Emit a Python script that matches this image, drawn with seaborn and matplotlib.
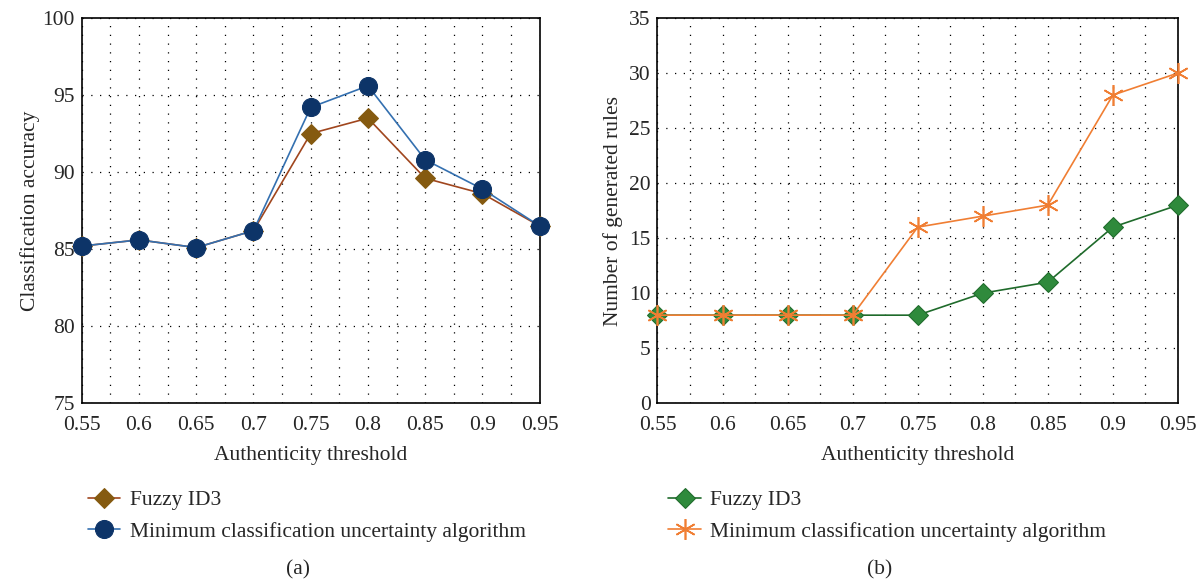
import numpy as np
import pandas as pd
import seaborn as sns
import matplotlib.pyplot as plt
from matplotlib.ticker import MultipleLocator

# Data
thresholds = [0.55, 0.6, 0.65, 0.7, 0.75, 0.8, 0.85, 0.9, 0.95]
acc_fuzzy = [85.2, 85.6, 85.1, 86.2, 92.5, 93.5, 89.6, 88.6, 86.5]
acc_mcu = [85.2, 85.6, 85.1, 86.2, 94.2, 95.6, 90.8, 88.9, 86.5]
rules_fuzzy = [8, 8, 8, 8, 8, 10, 11, 16, 18]
rules_mcu = [8, 8, 8, 8, 16, 17, 18, 28, 30]
names = ["Fuzzy ID3", "Minimum classification uncertainty algorithm"]

sns.set_style("ticks")
plt.rcParams['font.family'] = ['Liberation Serif', 'DejaVu Serif']
plt.rcParams['font.size'] = 15.5

fig = plt.figure(figsize=(12.02, 5.81), dpi=100)
ax1 = fig.add_axes([0.068, 0.306, 0.381, 0.663])
ax2 = fig.add_axes([0.547, 0.306, 0.433, 0.663])

# (a) classification accuracy
sns.lineplot(x=thresholds, y=acc_fuzzy, ax=ax1, color="#a0461e", lw=1.2,
             marker="D", markersize=10, markerfacecolor="#855a10",
             markeredgecolor="#855a10", label=names[0], clip_on=False, zorder=3)
sns.lineplot(x=thresholds, y=acc_mcu, ax=ax1, color="#3470b0", lw=1.2,
             marker="o", markersize=13, markerfacecolor="#0d3468",
             markeredgecolor="#0d3468", label=names[1], clip_on=False, zorder=4)
ax1.set_ylim(75, 100)
ax1.set_ylabel("Classification accuracy", labelpad=2)

# (b) number of rules
sns.lineplot(x=thresholds, y=rules_fuzzy, ax=ax2, color="#1f6b2b", lw=1.2,
             marker="D", markersize=10, markerfacecolor="#2f8a3c",
             markeredgecolor="#1f6b2b", label=names[0], clip_on=False, zorder=3)
sns.lineplot(x=thresholds, y=rules_mcu, ax=ax2, color="#f07e33", lw=1.2,
             marker=(6, 2, 0), markersize=15, markeredgewidth=1.2,
             markeredgecolor="#f07e33", label=names[1], clip_on=False, zorder=4)
ax2.set_ylim(0, 35)
ax2.set_ylabel("Number of generated rules", labelpad=4)

for ax in [ax1, ax2]:
    ax.set_xlim(0.55, 0.95)
    ax.set_xticks(thresholds)
    ax.set_xticklabels([f"{t:g}" for t in thresholds])
    ax.xaxis.set_minor_locator(MultipleLocator(0.025))
    ax.set_xlabel("Authenticity threshold", labelpad=8)
    ax.grid(True, which="major", axis="both", color="black", ls=(0, (1, 6)), lw=0.9)
    ax.grid(True, which="minor", axis="x", color="black", ls=(0, (1, 6)), lw=0.9)
    ax.tick_params(which="both", direction="in", length=0)
    ax.tick_params(axis="x", pad=9)
    ax.tick_params(axis="y", pad=5)
    for s in ax.spines.values():
        s.set_color("black")
        s.set_linewidth(1.2)
    ax.get_legend().remove()

h1, l1 = ax1.get_legend_handles_labels()
h2, l2 = ax2.get_legend_handles_labels()
fig.legend(h1, l1, loc="upper left", bbox_to_anchor=(0.057, 0.19), frameon=False,
           handlelength=1.5, handletextpad=0.45, labelspacing=0.55, fontsize=15.5)
fig.legend(h2, l2, loc="upper left", bbox_to_anchor=(0.540, 0.19), frameon=False,
           handlelength=1.5, handletextpad=0.45, labelspacing=0.55, fontsize=15.5)

fig.text(0.248, 0.012, "(a)", ha="center", fontsize=15.5)
fig.text(0.732, 0.012, "(b)", ha="center", fontsize=15.5)

plt.savefig("out.png", dpi=100)
